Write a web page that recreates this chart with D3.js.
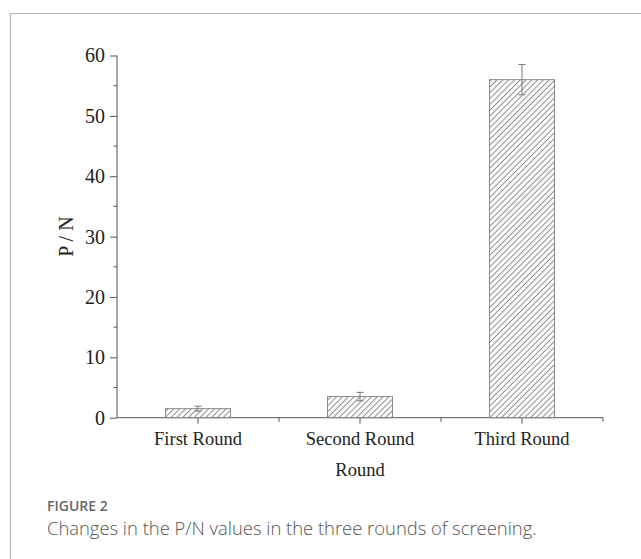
<!DOCTYPE html>
<html>
<head>
<meta charset="utf-8">
<script src="https://cdn.jsdelivr.net/npm/d3@7"></script>
<style>
  body { margin: 0; background: #fff; }
  svg { display: block; }
</style>
</head>
<body>
<div id="chart"></div>
<script>
// ---- data
const categories = ['First Round', 'Second Round', 'Third Round'];
const values = [1.5, 3.5, 56.0];
const errors = [0.4, 0.7, 2.5];
const yTicks = [0, 10, 20, 30, 40, 50, 60];

// ---- layout
const W = 641, H = 559;
const mLeft = 117, mRight = 603, mTop = 55.5, mBottom = 417.7;
const serif = '"Liberation Serif", "Times New Roman", serif';

const svg = d3.select('#chart').append('svg')
  .attr('width', W).attr('height', H);

// hatch pattern for the bars
const hs = 4.1;
svg.append('defs').append('pattern')
    .attr('id', 'hatch')
    .attr('patternUnits', 'userSpaceOnUse')
    .attr('width', hs).attr('height', hs)
    .attr('patternTransform', 'rotate(45)')
  .append('line')
    .attr('x1', hs / 2).attr('y1', 0).attr('x2', hs / 2).attr('y2', hs)
    .attr('stroke', '#8a8a8a').attr('stroke-width', 1);

// card border (left + top only visible)
svg.append('path')
  .attr('d', `M10.5,${H} V13.5 H${W}`)
  .attr('fill', 'none').attr('stroke', '#b5b5b5').attr('stroke-width', 1.2);

// scales
const x = d3.scaleBand().domain(categories).range([mLeft, mRight]).padding(0);
const y = d3.scaleLinear().domain([0, 60]).range([mBottom, mTop]);
const barW = 65;

// y axis
const yAxis = svg.append('g')
  .attr('transform', `translate(${mLeft},0)`)
  .call(d3.axisLeft(y).tickValues(yTicks).tickSize(7).tickPadding(5).tickFormat(d3.format('d')));
yAxis.selectAll('text').attr('font-family', serif).attr('font-size', 20).attr('fill', '#222');
yAxis.selectAll('line, path').attr('stroke', '#555');
yAxis.select('.domain').attr('d', `M0,${mBottom}V${mTop}`);
// minor ticks
svg.append('g').selectAll('line')
  .data(d3.range(5, 60, 10))
  .join('line')
    .attr('x1', mLeft - 3.5).attr('x2', mLeft)
    .attr('y1', d => y(d)).attr('y2', d => y(d))
    .attr('stroke', '#555');

// x axis
const xAxis = svg.append('g')
  .attr('transform', `translate(0,${mBottom})`)
  .call(d3.axisBottom(x).tickSize(6).tickPadding(8));
xAxis.selectAll('text').attr('font-family', serif).attr('font-size', 18.5).attr('fill', '#222');
xAxis.selectAll('line, path').attr('stroke', '#555');
xAxis.select('.domain').attr('d', `M${mLeft},0H${mRight}`);
// band separators (minor ticks)
svg.append('g').selectAll('line')
  .data(categories.slice(1).concat(['end']))
  .join('line')
    .attr('x1', d => d === 'end' ? mRight : x(d))
    .attr('x2', d => d === 'end' ? mRight : x(d))
    .attr('y1', mBottom).attr('y2', mBottom + 4)
    .attr('stroke', '#555');

// bars
svg.append('g').selectAll('rect')
  .data(values)
  .join('rect')
    .attr('x', (d, i) => x(categories[i]) + x.bandwidth() / 2 - barW / 2)
    .attr('y', d => y(d))
    .attr('width', barW)
    .attr('height', d => mBottom - y(d))
    .attr('fill', 'url(#hatch)')
    .attr('stroke', '#8a8a8a').attr('stroke-width', 1);

// error bars
const eb = svg.append('g').attr('stroke', '#777').attr('stroke-width', 1);
values.forEach((v, i) => {
  const cx = x(categories[i]) + x.bandwidth() / 2;
  eb.append('line').attr('x1', cx).attr('x2', cx)
    .attr('y1', y(v - errors[i])).attr('y2', y(v + errors[i]));
  [v - errors[i], v + errors[i]].forEach(e => {
    eb.append('line').attr('x1', cx - 3.5).attr('x2', cx + 3.5)
      .attr('y1', y(e)).attr('y2', y(e));
  });
});

// axis titles
svg.append('text')
  .attr('transform', `translate(73,${(mTop + mBottom) / 2}) rotate(-90)`)
  .attr('text-anchor', 'middle')
  .attr('font-family', serif).attr('font-size', 20).attr('fill', '#222')
  .text('P / N');
svg.append('text')
  .attr('x', (mLeft + mRight) / 2).attr('y', 476)
  .attr('text-anchor', 'middle')
  .attr('font-family', serif).attr('font-size', 18.5).attr('fill', '#222')
  .text('Round');

// caption
svg.append('text')
  .attr('x', 47).attr('y', 511)
  .attr('font-family', '"Open Sans", sans-serif').attr('font-size', 14)
  .attr('font-weight', 600)
  .attr('fill', '#666')
  .text('FIGURE 2');
svg.append('text')
  .attr('x', 47).attr('y', 535)
  .attr('font-family', '"Open Sans", sans-serif').attr('font-size', 18.4)
  .attr('font-weight', 300)
  .attr('fill', '#555')
  .text('Changes in the P/N values in the three rounds of screening.');
</script>
</body>
</html>
